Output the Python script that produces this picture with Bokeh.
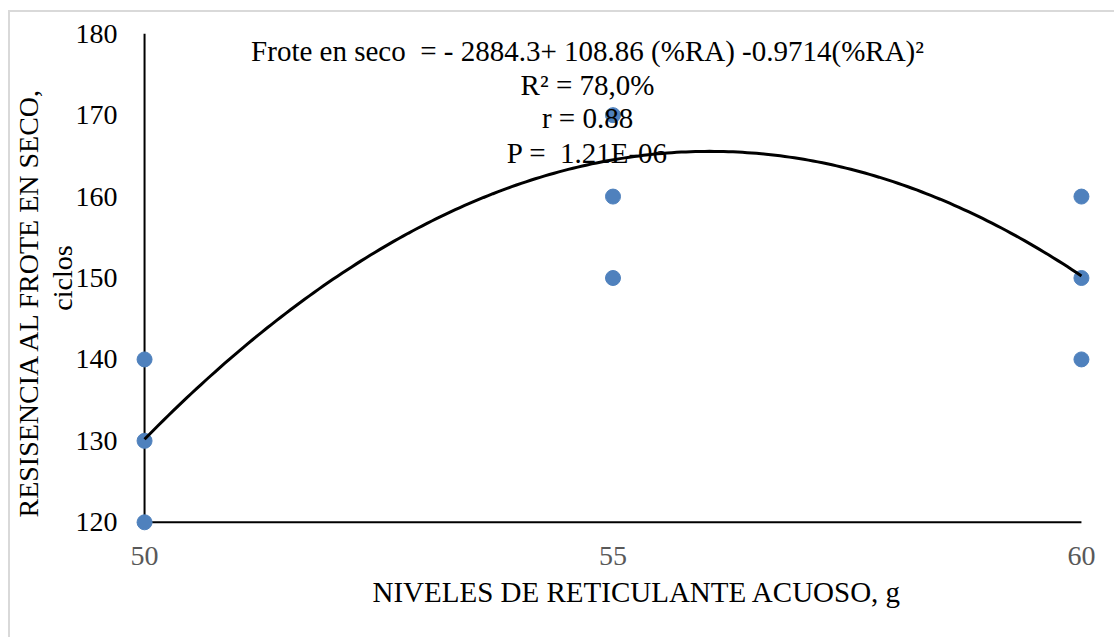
import numpy as np
from bokeh.plotting import figure
from bokeh.models import Range1d, Label, FixedTicker, Title
from bokeh.embed import file_html
from bokeh.resources import INLINE

# ---- data ----
niveles = [50, 50, 50, 55, 55, 55, 60, 60, 60]
frote = [140, 130, 120, 170, 160, 150, 160, 150, 140]
x_ticks = [50, 55, 60]
y_ticks = [120, 130, 140, 150, 160, 170, 180]
# quadratic trendline coefficients (shown in the chart)
c0, c1, c2 = -2884.3, 108.86, -0.9714
eq_lines = [
    "Frote en seco \u00a0= - 2884.3+ 108.86 (%RA) -0.9714(%RA)\u00b2",
    "R\u00b2 = 78,0%",
    "r = 0.88",
    "P = \u00a01.21E-06",
]
x_title = "NIVELES DE RETICULANTE ACUOSO, g"
y_title_1 = "RESISENCIA AL FROTE EN SECO,"
y_title_2 = "ciclos"

FONT = "Liberation Serif"
FS = "28px"

p = figure(width=1106, height=627, output_backend="svg", toolbar_location=None,
           x_range=Range1d(49.85, 60.15), y_range=Range1d(118.5, 181.5),
           min_border_left=120, min_border_right=21, min_border_top=9,
           min_border_bottom=105)
p.styles = {"border-left": "2px solid #d9d9d9", "border-top": "2px solid #d9d9d9",
            "margin-top": "10px", "margin-left": "8px"}
p.outline_line_color = None
p.xgrid.visible = False
p.ygrid.visible = False
p.background_fill_color = "white"
p.border_fill_color = "white"

for ax in (p.xaxis[0], p.yaxis[0]):
    ax.axis_line_color = None
    ax.major_tick_line_color = None
    ax.minor_tick_line_color = None
    ax.major_tick_out = 0
    ax.major_tick_in = 0
    ax.major_label_text_font = FONT
    ax.major_label_text_font_size = FS

p.xaxis.ticker = FixedTicker(ticks=x_ticks)
p.yaxis.ticker = FixedTicker(ticks=y_ticks)
p.xaxis.major_label_text_color = "#595959"
p.yaxis.major_label_text_color = "#000000"
p.xaxis.major_label_standoff = 12
p.yaxis.major_label_standoff = 13

# y axis label second line
p.yaxis.axis_label = y_title_2
p.yaxis.axis_label_text_font = FONT
p.yaxis.axis_label_text_font_size = FS
p.yaxis.axis_label_text_font_style = "normal"
p.yaxis.axis_label_text_color = "black"
p.yaxis.axis_label_standoff = -5

# y axis label first line
p.add_layout(Title(text=y_title_1, align="left", offset=17, standoff=0,
                   text_font=FONT, text_font_size=FS, text_font_style="normal",
                   text_color="black"), "left")
# x axis title
p.add_layout(Title(text=x_title, align="left", offset=242, standoff=12,
                   text_font=FONT, text_font_size="29px", text_font_style="normal",
                   text_color="black"), "below")

# axis lines at x=50 and y=120
p.segment(x0=[x_ticks[0], x_ticks[0]], y0=[y_ticks[0], y_ticks[0]],
          x1=[x_ticks[0], x_ticks[-1]], y1=[y_ticks[-1], y_ticks[0]],
          line_color="black", line_width=2)

# points
p.scatter(niveles, frote, size=15, fill_color="#4F81BD", line_color="#4F81BD")

# trendline
xs = np.linspace(min(niveles), max(niveles), 200)
ys = c0 + c1 * xs + c2 * xs ** 2
p.line(xs, ys, line_color="black", line_width=3)

# equation text
eq_x = 54.728
eq_y = [177.82, 173.76, 169.59, 165.41]
for t, yy in zip(eq_lines, eq_y):
    p.add_layout(Label(x=eq_x, y=yy, text=t, text_align="center",
                       text_baseline="alphabetic", text_font=FONT,
                       text_font_size="29px", text_color="black"))

open("out.html", "w").write(file_html(p, INLINE))
